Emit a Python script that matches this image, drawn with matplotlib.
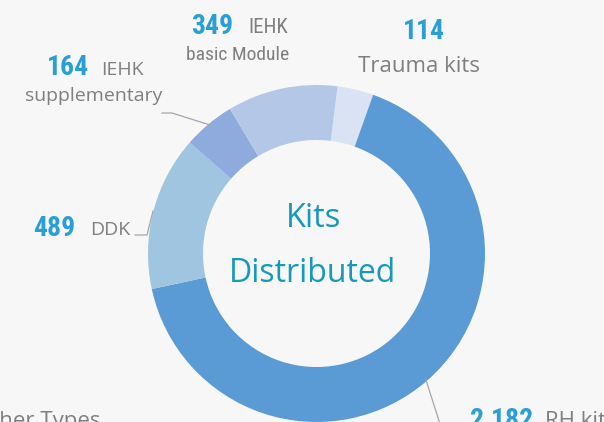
import matplotlib
matplotlib.use("Agg")
import matplotlib.pyplot as plt
from matplotlib import font_manager

categories = ["Trauma kits", "RH kits", "DDK", "IEHK supplementary", "IEHK basic Module"]
values = [114, 2182, 489, 164, 349]
value_labels = ["114", "2,182", "489", "164", "349"]
colors = ["#DAE3F3", "#5B9BD5", "#A0C5E0", "#8FAADC", "#B4C7E7"]

W, H = 604, 422
fig = plt.figure(figsize=(W / 100, H / 100), dpi=100)
fig.patch.set_facecolor("#F7F7F7")
ax = fig.add_axes([0, 0, 1, 1])
ax.set_facecolor("#F7F7F7")

names = {f.name for f in font_manager.fontManager.ttflist}
narrow = "Liberation Sans"
for cand in ["Liberation Sans Narrow", "Roboto Condensed", "Archivo Narrow", "Asap Condensed"]:
    if cand in names:
        narrow = cand
        break
body = "Open Sans"

cx, cy_px = 316.5, 253.5
R, r = 168.5, 113.5
cy = H - cy_px

ax.pie(values, colors=colors, startangle=82.8, counterclock=False,
       center=(cx, cy), radius=R,
       wedgeprops=dict(width=R - r, linewidth=0))
ax.set_xlim(0, W)
ax.set_ylim(0, H)
ax.set_aspect("equal")
ax.axis("off")

NUM = "#2A9FD6"
GRAY = "#7F7F7F"
LINE = "#A6A6A6"

def Y(p):
    return H - p

# centre text
ax.text(cx - 3, Y(227), "Kits", ha="center", va="baseline", fontsize=23.5,
        color="#1699BA", family=body)
ax.text(cx - 3.5, Y(282), "Distributed", ha="center", va="baseline", fontsize=23,
        color="#1699BA", family=body)

# IEHK basic Module
ax.text(233, Y(34), value_labels[4], ha="right", va="baseline", fontsize=20,
        fontweight="bold", color=NUM, family=narrow)
ax.text(248, Y(33), "IEHK", ha="left", va="baseline", fontsize=15,
        color=GRAY, family=narrow)
ax.text(289, Y(60), "basic Module", ha="right", va="baseline", fontsize=14,
        color=GRAY, family=narrow)

# IEHK supplementary
ax.text(89, Y(75), value_labels[3], ha="right", va="baseline", fontsize=20,
        fontweight="bold", color=NUM, family=narrow)
ax.text(101, Y(75), "IEHK", ha="left", va="baseline", fontsize=14,
        color=GRAY, family=body)
ax.text(94, Y(101), "supplementary", ha="center", va="baseline", fontsize=14,
        color=GRAY, family=body)
ax.plot([162, 172, 210], [Y(113), Y(113), Y(125)], color=LINE, lw=0.9)

# Trauma kits
ax.text(423.5, Y(39), value_labels[0], ha="center", va="baseline", fontsize=20,
        fontweight="bold", color=NUM, family=narrow)
ax.text(419.5, Y(72), "Trauma kits", ha="center", va="baseline", fontsize=16,
        color=GRAY, family=body)

# DDK
ax.text(75, Y(236), value_labels[2], ha="right", va="baseline", fontsize=20,
        fontweight="bold", color=NUM, family=narrow)
ax.text(90, Y(235), "DDK", ha="left", va="baseline", fontsize=14,
        color=GRAY, family=body)
ax.plot([135, 147, 153], [Y(235), Y(235), Y(211)], color=LINE, lw=0.9)

# RH kits
ax.text(470, Y(428), value_labels[1], ha="left", va="baseline", fontsize=20,
        fontweight="bold", color=NUM, family=narrow)
ax.text(545, Y(427), "RH kits", ha="left", va="baseline", fontsize=16,
        color=GRAY, family=body)
ax.plot([426, 440], [Y(380), Y(424)], color=LINE, lw=0.9)

# Other Types (cut off at lower left)
ax.text(101, Y(427), "Other Types", ha="right", va="baseline", fontsize=16,
        color=GRAY, family=body)

fig.savefig("out.png", dpi=100, facecolor=fig.get_facecolor())
